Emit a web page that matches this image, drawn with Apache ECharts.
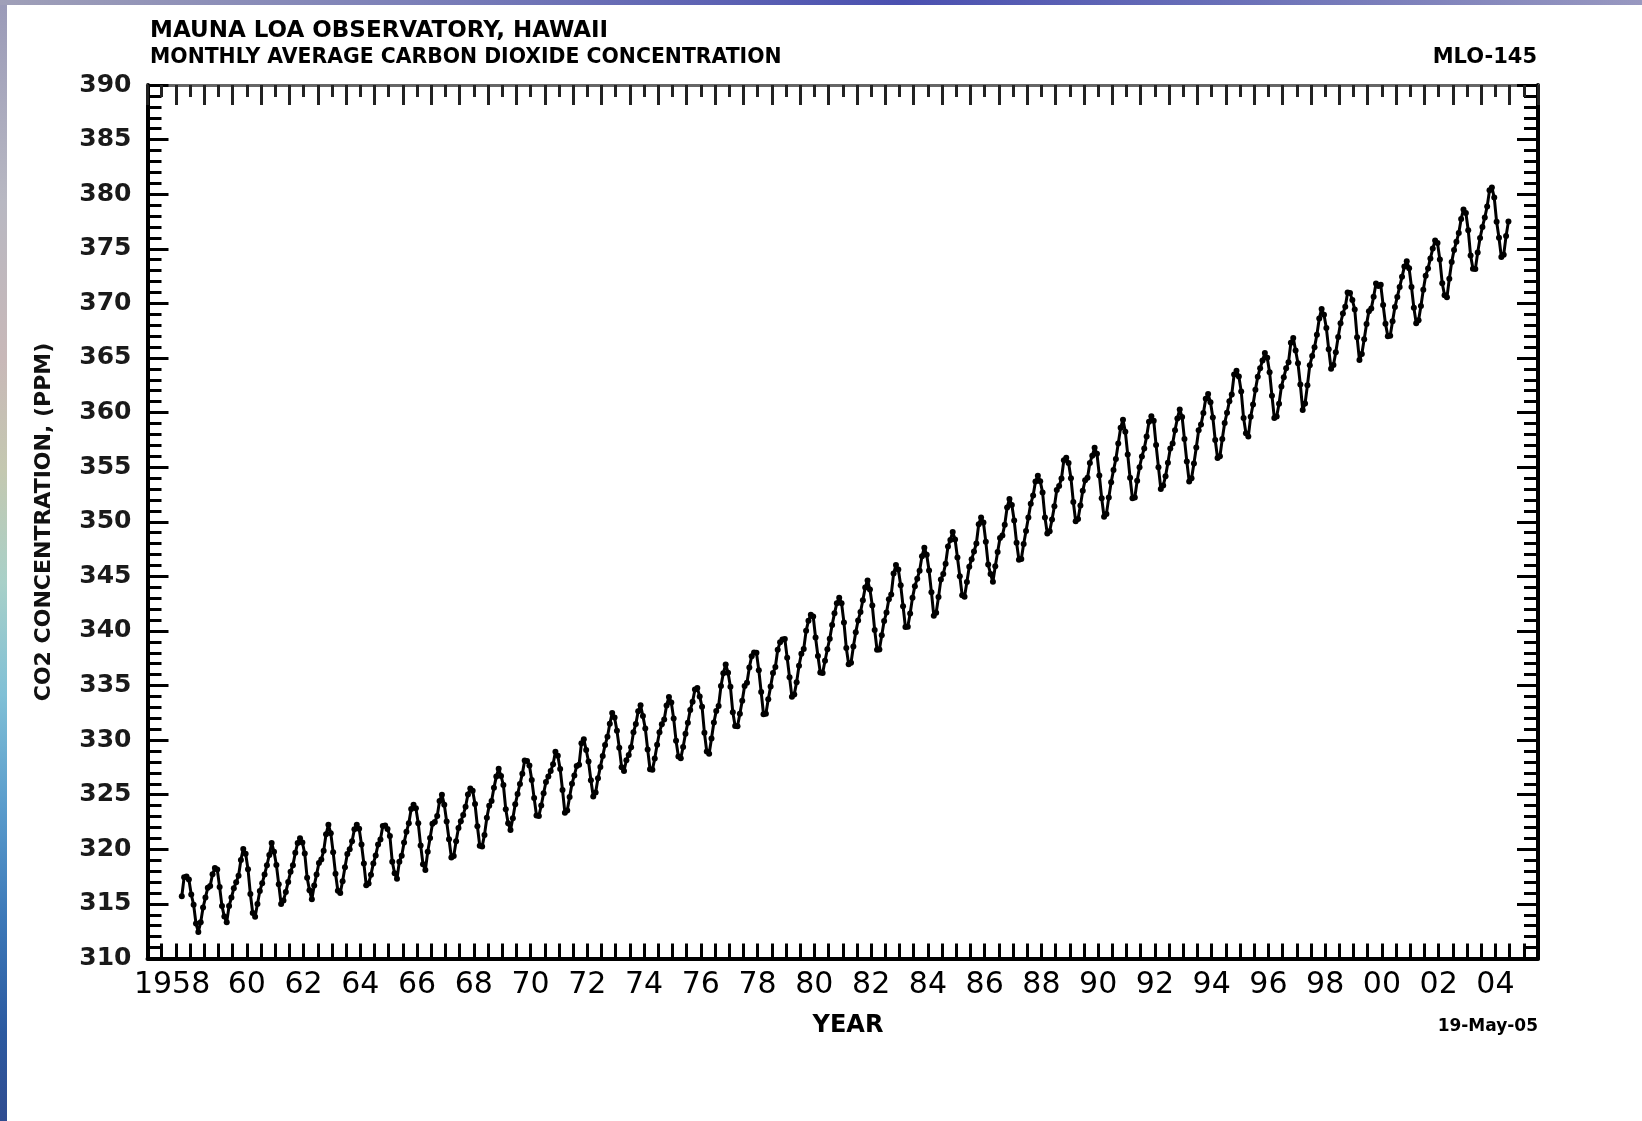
<!DOCTYPE html>
<html>
<head>
<meta charset="utf-8">
<script src="https://cdn.jsdelivr.net/npm/echarts@6/dist/echarts.min.js"></script>
<style>
html,body{margin:0;padding:0;background:#fff;}
#chart{width:1642px;height:1121px;}
</style>
</head>
<body>
<div id="chart"></div>
<script>
// ---- Data: Mauna Loa monthly average CO2 (ppm), Jan..Dec per year ----
const co2_1958_59 = [
  null, null, 315.70, 317.45, 317.51, 317.24, 315.86, 314.93, 313.20, 312.43, 313.33, 314.67,
  315.58, 316.49, 316.65, 317.72, 318.29, 318.15, 316.54, 314.80, 313.84, 313.33, 314.81, 315.58
];
const co2_1960s = [
  316.43, 316.98, 317.58, 319.03, 320.04, 319.59, 318.18, 315.90, 314.17, 313.83, 315.00, 316.19,
  316.89, 317.70, 318.54, 319.48, 320.58, 319.77, 318.57, 316.79, 314.99, 315.31, 316.10, 317.01,
  317.94, 318.55, 319.68, 320.57, 321.02, 320.62, 319.61, 317.40, 316.25, 315.42, 316.69, 317.70,
  318.74, 319.07, 319.86, 321.38, 322.25, 321.48, 319.74, 317.77, 316.21, 315.99, 317.07, 318.35,
  319.57, 320.01, 320.74, 321.84, 322.26, 321.89, 320.44, 318.69, 316.70, 316.87, 317.68, 318.71,
  319.44, 320.44, 320.89, 322.14, 322.17, 321.87, 321.21, 318.87, 317.81, 317.30, 318.87, 319.42,
  320.62, 321.60, 322.39, 323.70, 324.08, 323.75, 322.38, 320.36, 318.64, 318.10, 319.78, 321.03,
  322.33, 322.50, 323.04, 324.42, 325.00, 324.09, 322.54, 320.92, 319.25, 319.39, 320.73, 321.96,
  322.57, 323.15, 323.89, 325.02, 325.57, 325.36, 324.14, 322.11, 320.33, 320.25, 321.32, 322.89,
  324.00, 324.42, 325.63, 326.66, 327.38, 326.71, 325.88, 323.66, 322.38, 321.78, 322.85, 324.12
];
const co2_1970s = [
  325.06, 325.98, 326.93, 328.13, 328.08, 327.67, 326.34, 324.69, 323.10, 323.06, 324.01, 325.13,
  326.17, 326.68, 327.17, 327.79, 328.93, 328.57, 327.36, 325.43, 323.36, 323.56, 324.80, 326.01,
  326.77, 327.63, 327.75, 329.72, 330.07, 329.09, 328.04, 326.32, 324.84, 325.20, 326.50, 327.55,
  328.55, 329.56, 330.30, 331.50, 332.48, 332.07, 330.87, 329.31, 327.51, 327.18, 328.16, 328.64,
  329.35, 330.71, 331.48, 332.65, 333.19, 332.20, 331.07, 329.15, 327.33, 327.28, 328.31, 329.58,
  330.73, 331.46, 331.90, 333.17, 333.94, 333.45, 331.97, 329.95, 328.50, 328.34, 329.37, 330.58,
  331.59, 332.75, 333.52, 334.64, 334.77, 334.00, 333.06, 330.68, 328.95, 328.75, 330.15, 331.62,
  332.66, 333.13, 334.95, 336.13, 336.93, 336.17, 334.88, 332.56, 331.29, 331.27, 332.41, 333.60,
  334.95, 335.25, 336.66, 337.69, 338.03, 338.01, 336.41, 334.41, 332.37, 332.41, 333.75, 334.90,
  336.14, 336.69, 338.27, 338.96, 339.21, 339.26, 337.54, 335.75, 333.98, 334.19, 335.31, 336.81
];
const co2_1980s = [
  337.90, 338.34, 340.01, 340.93, 341.48, 341.33, 339.40, 337.70, 336.19, 336.15, 337.27, 338.32,
  339.29, 340.55, 341.61, 342.53, 343.03, 342.54, 340.78, 338.44, 336.95, 337.08, 338.58, 339.88,
  340.96, 341.73, 342.81, 343.97, 344.63, 343.79, 342.32, 340.09, 338.28, 338.29, 339.60, 340.90,
  341.68, 342.90, 343.33, 345.25, 346.03, 345.63, 344.19, 342.27, 340.35, 340.38, 341.59, 343.05,
  344.10, 344.79, 345.52, 346.84, 347.63, 346.97, 345.53, 343.55, 341.40, 341.67, 343.10, 344.70,
  345.21, 346.16, 347.74, 348.34, 349.06, 348.38, 346.72, 345.02, 343.27, 343.13, 344.49, 345.88,
  346.56, 347.28, 348.01, 349.77, 350.38, 349.93, 348.16, 346.08, 345.22, 344.51, 345.93, 347.22,
  348.52, 348.73, 349.73, 351.31, 352.09, 351.53, 350.11, 348.08, 346.52, 346.59, 347.96, 349.16,
  350.39, 351.64, 352.41, 353.69, 354.21, 353.72, 352.69, 350.40, 348.92, 349.13, 350.20, 351.41,
  352.91, 353.27, 353.96, 355.64, 355.86, 355.37, 353.99, 351.81, 350.05, 350.25, 351.49, 352.85
];
const co2_1990s = [
  353.80, 354.04, 355.39, 356.04, 356.77, 356.23, 354.24, 352.15, 350.46, 350.72, 352.21, 353.61,
  354.73, 355.75, 357.16, 358.60, 359.34, 358.24, 356.17, 354.03, 352.16, 352.21, 353.75, 354.99,
  355.98, 356.72, 357.81, 359.15, 359.66, 359.25, 357.02, 355.00, 353.01, 353.31, 354.16, 355.40,
  356.70, 357.17, 358.38, 359.46, 360.28, 359.60, 357.57, 355.52, 353.69, 353.99, 355.34, 356.80,
  358.37, 358.91, 359.97, 361.26, 361.69, 360.94, 359.55, 357.49, 355.84, 356.00, 357.59, 359.05,
  359.98, 361.03, 361.66, 363.48, 363.82, 363.30, 361.94, 359.50, 358.11, 357.80, 359.61, 360.74,
  362.09, 363.29, 364.06, 364.76, 365.45, 365.01, 363.70, 361.54, 359.51, 359.65, 360.80, 362.38,
  363.23, 364.06, 364.61, 366.40, 366.84, 365.68, 364.52, 362.57, 360.24, 360.83, 362.49, 364.34,
  365.18, 365.98, 367.13, 368.61, 369.49, 368.95, 367.74, 365.79, 364.01, 364.35, 365.52, 366.93,
  368.18, 369.07, 369.68, 370.99, 370.96, 370.30, 369.45, 366.90, 364.81, 365.37, 366.72, 368.10
];
const co2_2000s = [
  369.29, 369.54, 370.60, 371.82, 371.58, 371.70, 369.86, 368.13, 367.00, 367.03, 368.37, 369.67,
  370.59, 371.51, 372.43, 373.37, 373.85, 373.21, 371.51, 369.61, 368.18, 368.45, 369.76, 371.24,
  372.53, 373.20, 374.12, 375.02, 375.76, 375.52, 374.01, 371.85, 370.75, 370.55, 372.25, 373.79,
  374.88, 375.64, 376.45, 377.73, 378.60, 378.28, 376.70, 374.38, 373.17, 373.14, 374.66, 375.99,
  377.00, 377.87, 378.88, 380.35, 380.62, 379.69, 377.47, 376.01, 374.25, 374.46, 376.16, 377.51
];
const blockStartYears = [1958, 1960, 1970, 1980, 1990, 2000];
const blockValues = [co2_1958_59, co2_1960s, co2_1970s, co2_1980s, co2_1990s, co2_2000s];

// ---- Tick labels ----
const xLabelYears = [1958,1960,1962,1964,1966,1968,1970,1972,1974,1976,1978,1980,1982,1984,1986,1988,1990,1992,1994,1996,1998,2000,2002,2004];
const xLabelTexts = ['1958','60','62','64','66','68','70','72','74','76','78','80','82','84','86','88','90','92','94','96','98','00','02','04'];
const yTickValues = [310,315,320,325,330,335,340,345,350,355,360,365,370,375,380,385,390];

// build series points (x = decimal year at mid-month)
const points = [];
blockValues.forEach(function (arr, b) {
  arr.forEach(function (v, i) {
    if (v !== null) points.push([blockStartYears[b] + (i + 0.5) / 12, v]);
  });
});

const chart = echarts.init(document.getElementById('chart'), null, {renderer: 'canvas'});
const FONT = 'DejaVu Sans';

const option = {
  animation: false,
  backgroundColor: '#ffffff',
  grid: {left: 147.5, right: 104, top: 85, bottom: 162.5, containLabel: false},
  xAxis: [
    {
      type: 'value', position: 'bottom', min: 1957, max: 2006, interval: 0.5,
      axisLine: {show: true, onZero: false, lineStyle: {color: '#000', width: 4}},
      axisTick: {show: true, inside: true, length: 15, lineStyle: {color: '#000', width: 3}},
      splitLine: {show: false},
      axisLabel: {
        show: true, margin: 12, fontFamily: FONT, fontSize: 30, color: '#000',
        formatter: function (v) {
          const frac = v - Math.floor(v);
          if (Math.abs(frac - 0.5) > 1e-6) return '';
          const idx = xLabelYears.indexOf(Math.floor(v));
          if (idx < 0) return '';
          if (idx === 0) return '{s|' + xLabelTexts[idx] + '}';
          return xLabelTexts[idx];
        },
        rich: {s: {fontFamily: FONT, fontSize: 30, color: '#000', padding: [0, 36, 0, 0]}}
      }
    },
    {
      type: 'value', position: 'top', min: 1957, max: 2006, interval: 1,
      axisLine: {show: true, onZero: false, lineStyle: {color: '#666', width: 3}},
      axisTick: {show: true, inside: true, length: 20, lineStyle: {color: '#222', width: 3}},
      minorTick: {show: true, splitNumber: 2, length: 12, lineStyle: {color: '#222', width: 3}},
      splitLine: {show: false},
      axisLabel: {show: false}
    }
  ],
  yAxis: [
    {
      type: 'value', position: 'left', min: 310, max: 390, interval: 5,
      axisLine: {show: true, onZero: false, lineStyle: {color: '#000', width: 4}},
      axisTick: {show: true, inside: true, length: 21, lineStyle: {color: '#000', width: 3}},
      minorTick: {show: true, splitNumber: 5, length: 14, lineStyle: {color: '#000', width: 3}},
      splitLine: {show: false},
      axisLabel: {
        show: true, margin: 16, fontFamily: FONT, fontWeight: 'bold', fontSize: 25, color: '#1a1a1a',
        formatter: function (v) { return yTickValues.indexOf(v) >= 0 ? String(v) : ''; }
      }
    },
    {
      type: 'value', position: 'right', min: 310, max: 390, interval: 5,
      axisLine: {show: true, onZero: false, lineStyle: {color: '#000', width: 4}},
      axisTick: {show: true, inside: true, length: 21, lineStyle: {color: '#000', width: 3}},
      minorTick: {show: true, splitNumber: 5, length: 14, lineStyle: {color: '#000', width: 3}},
      splitLine: {show: false},
      axisLabel: {show: false}
    }
  ],
  series: [
    {
      type: 'line', xAxisIndex: 0, yAxisIndex: 0, data: points,
      symbol: 'circle', symbolSize: 6, showSymbol: true, silent: true,
      lineStyle: {color: '#000', width: 3},
      itemStyle: {color: '#000'},
      z: 5
    }
  ],
  graphic: [
    {
      type: 'rect', left: 0, top: 0, z: -10, silent: true,
      shape: {x: 0, y: 0, width: 7, height: 1121},
      style: {fill: new echarts.graphic.LinearGradient(0, 0, 0, 1, [
        {offset: 0, color: '#9a9ab8'}, {offset: 0.18, color: '#b8b8c2'},
        {offset: 0.32, color: '#c8b8b8'}, {offset: 0.42, color: '#c4c8b0'},
        {offset: 0.52, color: '#a8d0c8'}, {offset: 0.62, color: '#80c0d6'},
        {offset: 0.72, color: '#5a9ccc'}, {offset: 0.82, color: '#3c78b8'},
        {offset: 0.92, color: '#2c5aa0'}, {offset: 1, color: '#304c90'}
      ])}
    },
    {
      type: 'rect', left: 0, top: 0, z: -10, silent: true,
      shape: {x: 0, y: 0, width: 1642, height: 5},
      style: {fill: new echarts.graphic.LinearGradient(0, 0, 1, 0, [
        {offset: 0, color: '#a0a0b8'}, {offset: 0.25, color: '#7c80b8'},
        {offset: 0.55, color: '#4a50b0'}, {offset: 0.75, color: '#6a70b8'},
        {offset: 1, color: '#9898c0'}
      ])}
    },
    {
      type: 'text', x: 150, y: 31, silent: true,
      style: {text: 'MAUNA LOA OBSERVATORY, HAWAII', fontFamily: FONT, fontWeight: 'bold', fontSize: 23,
        fill: '#000', textAlign: 'left', textVerticalAlign: 'middle'}
    },
    {
      type: 'text', x: 150, y: 58, silent: true,
      style: {text: 'MONTHLY AVERAGE CARBON DIOXIDE CONCENTRATION', fontFamily: FONT, fontWeight: 'bold', fontSize: 20.4,
        fill: '#000', textAlign: 'left', textVerticalAlign: 'middle'}
    },
    {
      type: 'text', x: 1537, y: 58, silent: true,
      style: {text: 'MLO-145', fontFamily: FONT, fontWeight: 'bold', fontSize: 21,
        fill: '#000', textAlign: 'right', textVerticalAlign: 'middle'}
    },
    {
      type: 'text', x: 44, y: 522, rotation: Math.PI / 2, silent: true,
      style: {text: 'CO2 CONCENTRATION, (PPM)', fontFamily: FONT, fontWeight: 'bold', fontSize: 22,
        fill: '#111', textAlign: 'center', textVerticalAlign: 'middle'}
    },
    {
      type: 'text', x: 848, y: 1026, silent: true,
      style: {text: 'YEAR', fontFamily: FONT, fontWeight: 'bold', fontSize: 24,
        fill: '#000', textAlign: 'center', textVerticalAlign: 'middle'}
    },
    {
      type: 'text', x: 1538, y: 1027, silent: true,
      style: {text: '19-May-05', fontFamily: FONT, fontWeight: 'bold', fontSize: 17,
        fill: '#000', textAlign: 'right', textVerticalAlign: 'middle'}
    }
  ]
};
chart.setOption(option);
</script>
</body>
</html>
